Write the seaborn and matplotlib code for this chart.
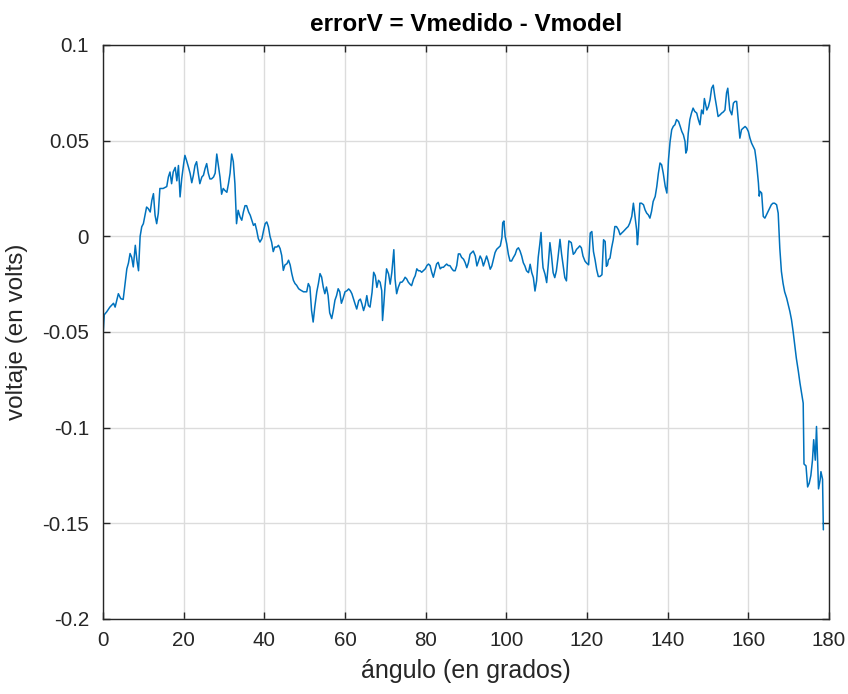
import matplotlib
matplotlib.use("Agg")
import matplotlib.pyplot as plt
import seaborn as sns
import pandas as pd

# Error between measured and modelled voltage as a function of angle
angulo = [
    0.0, 0.3, 0.9, 1.7, 2.6, 3.0, 3.8, 4.4, 5.0, 5.5, 5.9, 6.3, 6.7, 7.1, 7.5, 8.0, 8.4, 8.8,
    9.2, 9.6, 10.0, 10.4, 10.8, 11.2, 11.7, 12.1, 12.5, 12.9, 13.3, 13.7, 14.1, 14.9, 15.8,
    16.2, 16.6, 17.0, 17.4, 17.9, 18.3, 18.7, 19.1, 19.5, 20.0, 20.3, 20.7, 21.2, 21.6, 22.0,
    22.4, 22.8, 23.2, 23.6, 24.0, 24.5, 24.9, 25.3, 25.7, 26.1, 26.5, 26.9, 27.4, 27.8, 28.2,
    28.6, 29.0, 29.4, 29.8, 30.2, 30.7, 31.1, 31.5, 31.9, 32.3, 32.7, 33.1, 33.5, 34.0, 34.4,
    34.8, 35.2, 35.6, 36.1, 36.5, 36.9, 37.3, 37.7, 38.1, 38.5, 38.9, 39.4, 39.8, 40.2, 40.6,
    41.0, 41.4, 41.8, 42.2, 42.6, 43.1, 43.5, 43.9, 44.3, 44.7, 45.1, 45.6, 46.0, 46.4, 46.8,
    47.2, 47.6, 48.0, 48.5, 48.9, 49.7, 50.5, 50.9, 51.3, 51.7, 52.1, 52.5, 53.0, 53.4, 53.8,
    54.2, 54.6, 55.0, 55.4, 55.8, 56.2, 56.7, 57.1, 57.5, 57.9, 58.3, 58.7, 59.1, 59.5, 60.0,
    60.5, 60.9, 61.3, 61.7, 62.1, 62.5, 62.9, 63.4, 63.8, 64.2, 64.6, 65.0, 65.4, 65.8, 66.2,
    66.7, 67.1, 67.5, 67.9, 68.3, 68.7, 69.1, 69.3, 69.6, 69.9, 70.3, 70.8, 71.2, 71.6, 72.0,
    72.1, 72.4, 72.8, 73.2, 73.7, 74.1, 74.5, 74.9, 75.3, 75.7, 76.1, 76.5, 77.0, 77.4, 77.8,
    78.2, 78.6, 79.0, 79.4, 79.9, 80.3, 80.7, 81.1, 81.5, 81.9, 82.3, 82.7, 83.1, 83.6, 84.0,
    84.4, 84.8, 85.2, 85.6, 86.0, 86.5, 86.9, 87.3, 87.7, 88.1, 88.5, 88.9, 89.4, 89.8, 90.2,
    90.6, 91.0, 91.4, 91.8, 92.3, 92.7, 93.1, 93.5, 93.9, 94.3, 94.7, 95.1, 95.5, 96.0, 96.4,
    96.8, 97.2, 97.6, 98.0, 98.5, 98.9, 99.1, 99.4, 99.7, 100.1, 100.5, 100.9, 101.3, 101.7,
    102.2, 102.6, 103.0, 103.4, 103.8, 104.2, 104.6, 105.0, 105.5, 105.9, 106.3, 106.7, 107.1,
    107.5, 107.9, 108.3, 108.6, 108.9, 109.1, 109.6, 110.0, 110.4, 110.8, 111.2, 111.6, 112.0,
    112.4, 112.8, 113.3, 113.7, 114.1, 114.5, 114.9, 115.3, 115.5, 116.1, 116.6, 117.0, 117.4,
    117.8, 118.2, 118.6, 119.0, 119.5, 119.9, 120.4, 120.8, 121.2, 121.6, 122.0, 122.4, 122.8,
    123.2, 123.7, 124.1, 124.5, 124.8, 125.1, 125.3, 125.7, 126.1, 126.5, 126.9, 127.3, 127.8,
    128.2, 128.6, 129.0, 129.4, 129.8, 130.2, 130.6, 131.1, 131.5, 131.9, 132.3, 132.5, 132.7,
    133.1, 133.5, 134.0, 134.4, 134.8, 135.2, 135.6, 136.0, 136.4, 136.9, 137.3, 137.7, 138.1,
    138.5, 138.9, 139.4, 139.8, 140.2, 140.6, 141.0, 141.4, 141.8, 142.2, 142.7, 143.1, 143.5,
    143.9, 144.3, 144.5, 144.8, 145.1, 145.5, 145.9, 146.3, 146.7, 147.2, 147.6, 148.0, 148.4,
    148.8, 149.1, 149.4, 149.7, 150.1, 150.5, 150.9, 151.3, 151.7, 152.1, 152.5, 153.0, 153.4,
    153.8, 154.2, 154.6, 154.9, 155.1, 155.4, 155.9, 156.3, 156.7, 157.1, 157.5, 157.9, 158.3,
    158.7, 159.2, 159.6, 160.0, 160.4, 160.8, 161.2, 161.6, 162.0, 162.5, 162.7, 162.9, 163.3,
    163.7, 164.1, 164.5, 164.9, 165.3, 165.7, 166.1, 166.5, 167.0, 167.4, 167.8, 168.2, 168.6,
    169.0, 169.5, 169.9, 170.3, 170.7, 171.1, 171.5, 171.9, 172.4, 172.8, 173.2, 173.6, 173.8,
    174.3, 174.7, 175.1, 175.5, 175.9, 176.2, 176.6, 176.9, 177.2, 177.4, 177.8, 178.0, 178.4,
    178.6,
]

error_v = [
    -0.052, -0.041, -0.0395, -0.037, -0.035, -0.037, -0.030, -0.0326, -0.033, -0.024, -0.017,
    -0.014, -0.009, -0.011, -0.016, -0.0047, -0.0125, -0.018, 0.000, 0.005, 0.0066, 0.011,
    0.0153, 0.0145, 0.0127, 0.0188, 0.0223, 0.011, 0.0066, 0.012, 0.025, 0.025, 0.026, 0.031,
    0.0336, 0.0275, 0.0336, 0.036, 0.029, 0.037, 0.0206, 0.030, 0.038, 0.0423, 0.0397, 0.036,
    0.0328, 0.028, 0.0319, 0.037, 0.039, 0.033, 0.0275, 0.031, 0.0319, 0.0354, 0.038, 0.033,
    0.030, 0.030, 0.031, 0.033, 0.043, 0.037, 0.031, 0.022, 0.025, 0.024, 0.023, 0.0275, 0.033,
    0.043, 0.039, 0.0275, 0.0066, 0.0136, 0.010, 0.0084, 0.0127, 0.016, 0.016, 0.0127, 0.011,
    0.0084, 0.0057, 0.0066, 0.0031, -0.0012, -0.003, -0.0012, 0.003, 0.0066, 0.0075, 0.005,
    0.000, -0.003, -0.008, -0.0056, -0.0056, -0.0047, -0.0064, -0.010, -0.0178, -0.015,
    -0.0143, -0.0125, -0.015, -0.0195, -0.023, -0.0247, -0.0256, -0.0274, -0.028, -0.029,
    -0.029, -0.0247, -0.0265, -0.0387, -0.0448, -0.037, -0.029, -0.0247, -0.0195, -0.0213,
    -0.0265, -0.030, -0.0265, -0.0309, -0.040, -0.043, -0.0387, -0.0334, -0.031, -0.0274,
    -0.029, -0.035, -0.0326, -0.029, -0.0284, -0.0275, -0.0284, -0.030, -0.0328, -0.0354,
    -0.038, -0.0336, -0.0328, -0.0354, -0.0388, -0.036, -0.031, -0.0362, -0.037, -0.0293,
    -0.0188, -0.0206, -0.0267, -0.023, -0.024, -0.0284, -0.044, -0.036, -0.0267, -0.017,
    -0.0197, -0.025, -0.019, -0.0092, -0.007, -0.0223, -0.030, -0.0267, -0.024, -0.024, -0.023,
    -0.0214, -0.0223, -0.024, -0.025, -0.0258, -0.0223, -0.0206, -0.017, -0.018, -0.018,
    -0.0188, -0.018, -0.017, -0.0153, -0.0145, -0.0153, -0.0188, -0.0214, -0.018, -0.0145,
    -0.0136, -0.017, -0.0162, -0.0162, -0.0153, -0.0145, -0.0153, -0.0153, -0.017, -0.018,
    -0.018, -0.0153, -0.0092, -0.0092, -0.011, -0.012, -0.0138, -0.0164, -0.0138, -0.0094,
    -0.0085, -0.0077, -0.0103, -0.0155, -0.013, -0.0103, -0.012, -0.0155, -0.013, -0.0103,
    -0.013, -0.0172, -0.0155, -0.012, -0.0085, -0.0068, -0.006, -0.005, -0.0007, 0.0071, 0.008,
    0.0, -0.004, -0.0094, -0.0129, -0.0129, -0.0112, -0.0094, -0.0068, -0.006, -0.0077,
    -0.0103, -0.0138, -0.0155, -0.018, -0.019, -0.0146, -0.019, -0.0216, -0.0286, -0.0233,
    -0.011, -0.004, 0.002, -0.011, -0.0164, -0.0199, -0.0242, -0.0146, -0.0033, -0.0103,
    -0.019, -0.0216, -0.0181, -0.0112, -0.0016, -0.0094, -0.0155, -0.0216, -0.0233, -0.0077,
    -0.0024, -0.0033, -0.0094, -0.0085, -0.0068, -0.006, -0.005, -0.006, -0.0103, -0.013,
    -0.014, -0.0149, 0.0017, 0.0025, -0.008, -0.0123, -0.0175, -0.021, -0.021, -0.0201,
    -0.0018, -0.0027, -0.0157, -0.0149, -0.0123, -0.0114, -0.006, -0.0018, 0.0051, 0.0051,
    0.0034, 0.0008, 0.0017, 0.0025, 0.0034, 0.0043, 0.0051, 0.0069, 0.0104, 0.0173, 0.0104,
    0.0034, -0.0044, 0.0008, 0.0173, 0.0173, 0.0165, 0.0138, 0.0121, 0.0112, 0.0095, 0.013,
    0.0182, 0.0208, 0.026, 0.033, 0.0383, 0.0374, 0.033, 0.026, 0.0226, 0.040, 0.0496, 0.0557,
    0.0575, 0.0583, 0.061, 0.0600, 0.0575, 0.0548, 0.053, 0.0496, 0.0435, 0.0452, 0.0539,
    0.061, 0.0644, 0.067, 0.0653, 0.0644, 0.061, 0.0583, 0.066, 0.064, 0.072, 0.069, 0.066,
    0.0678, 0.0713, 0.0774, 0.079, 0.073, 0.068, 0.0626, 0.0635, 0.0644, 0.065, 0.066, 0.075,
    0.0774, 0.073, 0.066, 0.0635, 0.0696, 0.0705, 0.0705, 0.061, 0.0513, 0.0557, 0.0565,
    0.0574, 0.0565, 0.0548, 0.0513, 0.0487, 0.047, 0.0452, 0.039, 0.0278, 0.021, 0.0235,
    0.0226, 0.0104, 0.0095, 0.0112, 0.013, 0.0148, 0.0165, 0.0173, 0.0173, 0.0165, 0.0121,
    -0.0062, -0.0184, -0.0245, -0.029, -0.0323, -0.0358, -0.0393, -0.0436, -0.0497, -0.0567,
    -0.0637, -0.0706, -0.0767, -0.082, -0.0872, -0.119, -0.120, -0.131, -0.129, -0.125,
    -0.117, -0.1063, -0.117, -0.0994, -0.1185, -0.132, -0.1273, -0.123, -0.127, -0.1534,
]

x_ticks = [0, 20, 40, 60, 80, 100, 120, 140, 160, 180]
y_ticks = [-0.2, -0.15, -0.1, -0.05, 0, 0.05, 0.1]
y_tick_labels = ["-0.2", "-0.15", "-0.1", "-0.05", "0", "0.05", "0.1"]

df = pd.DataFrame({"angulo": angulo, "error": error_v})

sns.set_theme(style="white")
plt.rcParams["font.family"] = ["Liberation Sans", "DejaVu Sans"]

fig = plt.figure(figsize=(8.48, 6.94), dpi=100)
ax = fig.add_axes([0.1215, 0.1081, 0.8561, 0.8271])

sns.lineplot(data=df, x="angulo", y="error", ax=ax, color="#0072BD",
             linewidth=1.1, estimator=None, sort=False)

ax.set_xlim(0, 180)
ax.set_ylim(-0.2, 0.1)
ax.set_xticks(x_ticks)
ax.set_xticklabels([str(t) for t in x_ticks])
ax.set_yticks(y_ticks)
ax.set_yticklabels(y_tick_labels)

ax.grid(True, color="#dcdcdc", linewidth=1.0)
ax.set_axisbelow(True)

edge = "#262626"
for side in ["left", "right", "top", "bottom"]:
    ax.spines[side].set_visible(True)
    ax.spines[side].set_color(edge)
    ax.spines[side].set_linewidth(1.0)

ax.tick_params(axis="both", which="major", direction="in", length=5, width=1.0,
               color=edge, labelcolor=edge, labelsize=14.8,
               top=True, right=True, bottom=True, left=True)
ax.tick_params(axis="x", pad=9)
ax.tick_params(axis="y", pad=10)

ax.set_xlabel("ángulo (en grados)", fontsize=18, color=edge, labelpad=6)
ax.set_ylabel("voltaje (en volts)", fontsize=17.5, color=edge, labelpad=10)
ax.set_title("errorV = Vmedido - Vmodel", fontsize=17.5, fontweight="bold",
             color="#000000", pad=10)

fig.savefig("out.png", dpi=100)
